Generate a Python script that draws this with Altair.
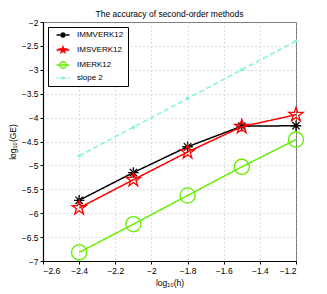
import altair as alt
import pandas as pd

x_vals = [-2.4, -2.1, -1.8, -1.5, -1.2]
immverk = [-5.73, -5.15, -4.61, -4.18, -4.17]
imsverk = [-5.89, -5.30, -4.72, -4.19, -3.94]
imerk = [-6.82, -6.23, -5.63, -5.03, -4.46]
slope2 = [-4.80, -4.20, -3.60, -3.00, -2.40]

names = ["IMMVERK12", "IMSVERK12", "IMERK12", "slope 2"]
colors = ["#000000", "#ff0000", "#66ee00", "#7ff5da"]
series = [immverk, imsverk, imerk, slope2]

rows = []
for n, s in zip(names, series):
    for xv, yv in zip(x_vals, s):
        rows.append({"x": xv, "y": yv, "method": n})
df = pd.DataFrame(rows)

ASTER = "M-1,0H1M0,-1V1M-0.7,-0.7L0.7,0.7M-0.7,0.7L0.7,-0.7"
STAR = ("M0,-1L0.225,-0.309L0.951,-0.309L0.363,0.118L0.588,0.809L0,0.382"
        "L-0.588,0.809L-0.363,0.118L-0.951,-0.309L-0.225,-0.309Z")
marker_paths = [ASTER, STAR, "circle", "circle"]
marker_sizes = [110, 220, 230, 12]
marker_filled = [False, False, False, True]

legend_paths = [
    "M-2,0H2M-0.9,0H0.9M0,-0.9V0.9M-0.64,-0.64L0.64,0.64M-0.64,0.64L0.64,-0.64",
    "M-2,0H2" + STAR,
    "M-2,0H2M1,0A1,1,0,1,1,-1,0A1,1,0,1,1,1,0Z",
    "M-2,0H-1.4M-0.9,0H-0.3M0.3,0H0.9M1.4,0H2M0.24,0A0.24,0.24,0,1,1,-0.24,0A0.24,0.24,0,1,1,0.24,0Z",
]

xs = alt.X("x:Q", scale=alt.Scale(domain=[-2.6, -1.2], nice=False),
           axis=alt.Axis(values=[-2.6, -2.4, -2.2, -2, -1.8, -1.6, -1.4, -1.2],
                         format="~g", title="log₁₀(h)"))
ys = alt.Y("y:Q", scale=alt.Scale(domain=[-7, -2], nice=False),
           axis=alt.Axis(values=[-7, -6.5, -6, -5.5, -5, -4.5, -4, -3.5, -3, -2.5, -2],
                         format="~g", title="log₁₀(GE)"))

layers = []
for n, c, p, sz, f in zip(names, colors, marker_paths, marker_sizes, marker_filled):
    base = alt.Chart(df).transform_filter(alt.datum.method == n)
    line = base.mark_line(color=c, strokeWidth=1.5,
                          strokeDash=[5, 3] if n == "slope 2" else [1, 0]).encode(x=xs, y=ys)
    pts = base.mark_point(shape=p, size=sz, color=c, filled=f, strokeWidth=1.3,
                          opacity=1).encode(x=xs, y=ys)
    layers += [line, pts]

legend_layer = alt.Chart(df).mark_point(opacity=0, filled=False, fill="transparent",
                                        strokeWidth=1.4).encode(
    x=xs, y=ys,
    stroke=alt.Stroke("method:N", scale=alt.Scale(domain=names, range=colors),
                      legend=alt.Legend(title=None, orient="top-left", offset=5,
                                        strokeColor="#000", fillColor="#fff",
                                        padding=4, symbolSize=42, symbolOffset=7,
                                        labelOffset=10, rowPadding=3,
                                        symbolStrokeWidth=1.3, labelFontSize=8,
                                        labelFont="Liberation Sans",
                                        symbolFillColor="transparent",
                                        symbolOpacity=1)),
    shape=alt.Shape("method:N", scale=alt.Scale(domain=names, range=legend_paths)),
)

chart = alt.layer(*layers, legend_layer).properties(
    width=253, height=239,
    autosize=alt.AutoSizeParams(type="none"),
    padding={"left": 35, "top": 14, "right": 20, "bottom": 30},
    title=alt.Title("The accuracy of second-order methods", fontSize=8.5,
                    fontWeight="normal", font="Liberation Sans", offset=0),
).configure_view(stroke="#777", strokeWidth=1).configure_axis(
    labelFont="Liberation Sans", labelFontSize=8.5, labelColor="#000",
    titleFont="Liberation Sans", titleFontSize=8.5, titleFontWeight="normal",
    titleColor="#000", domainColor="#000", domainWidth=1.2,
    gridColor="#aaa", gridDash=[1, 3], gridWidth=0.8,
    tickSize=3, tickColor="#000", labelPadding=2,
).configure_axisX(titlePadding=4).configure_axisY(titlePadding=4)

chart.save("out.html", embed_options={"renderer": "svg", "actions": False})
